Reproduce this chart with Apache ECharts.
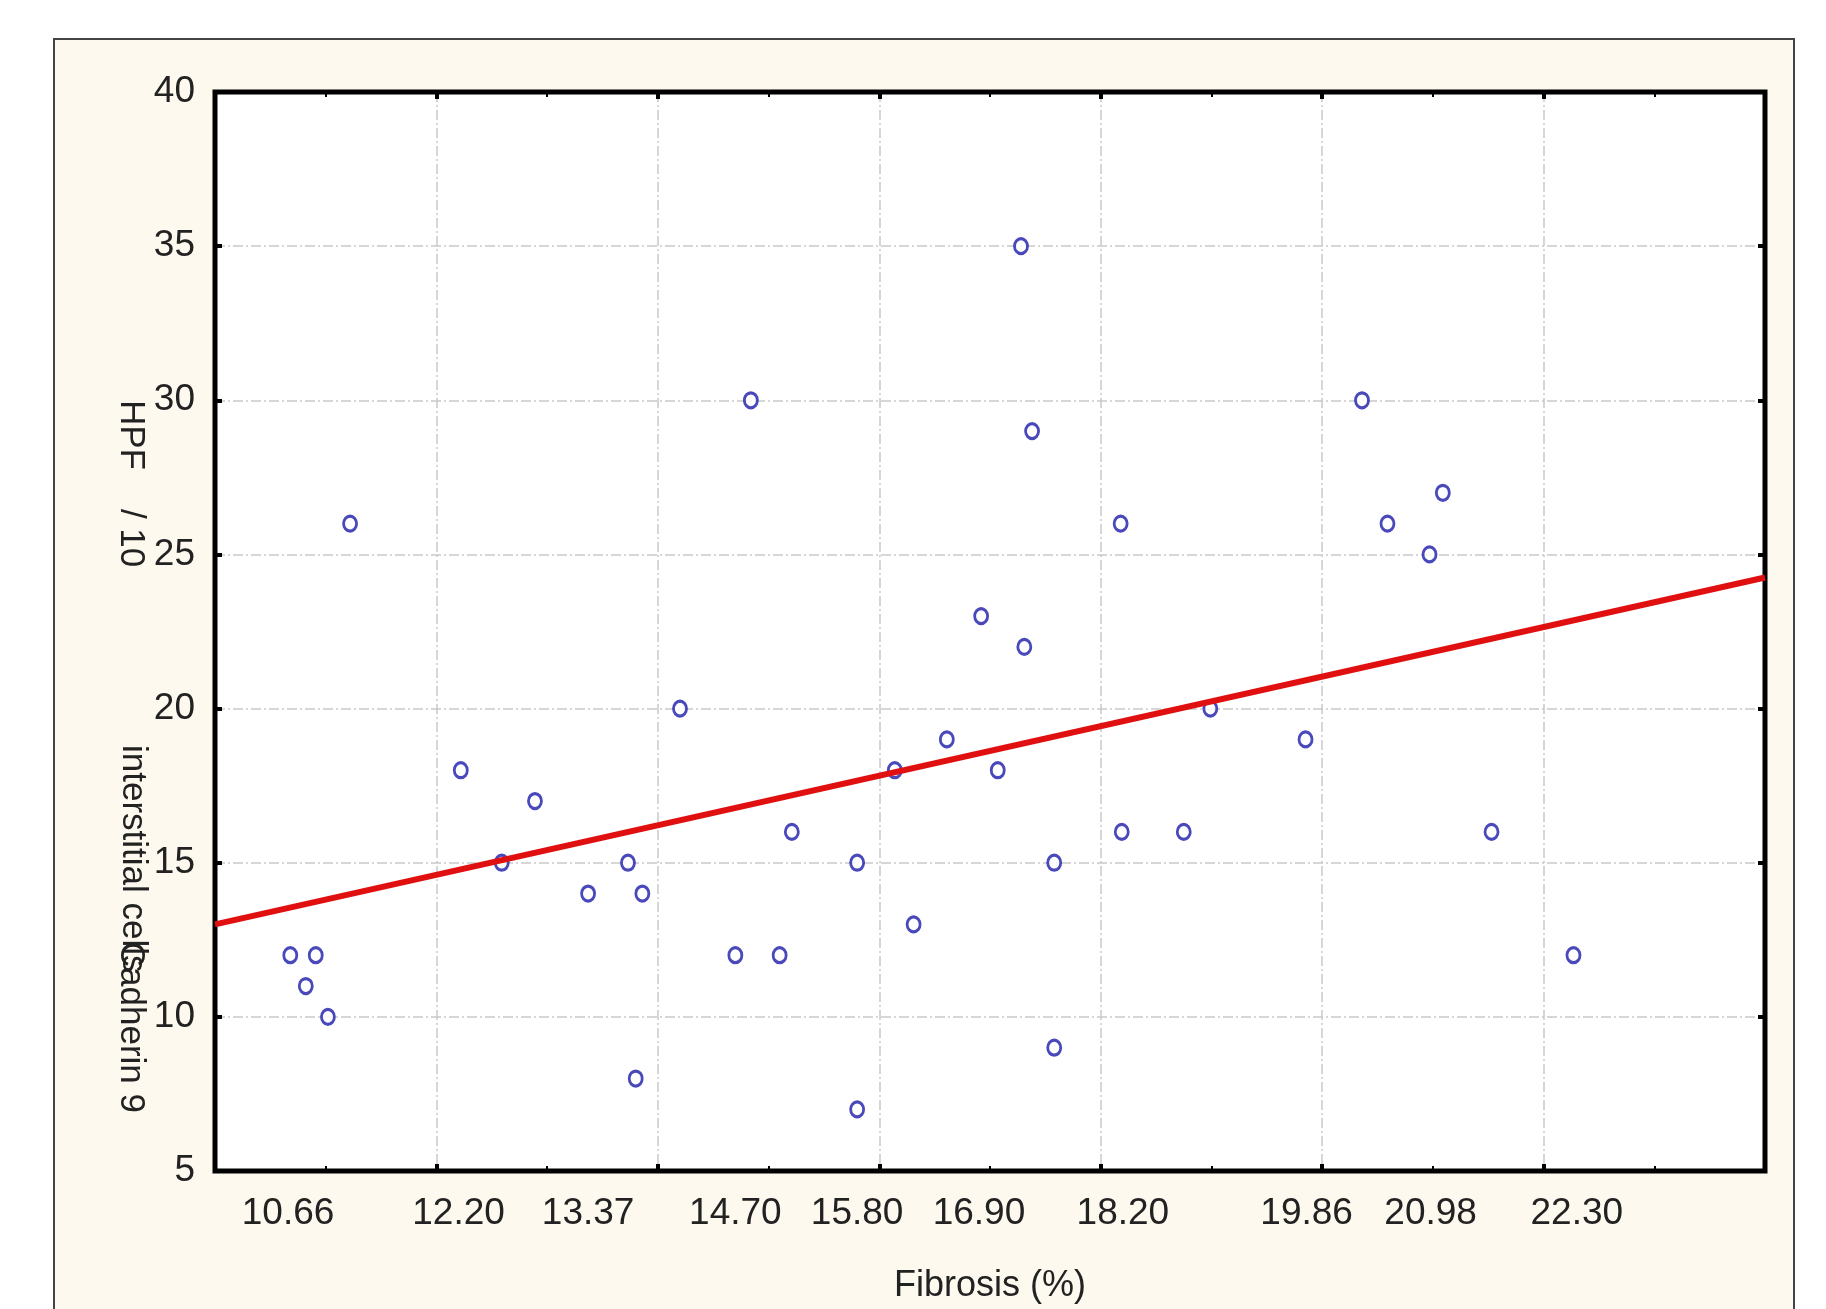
<!DOCTYPE html>
<html>
<head>
<meta charset="utf-8">
<script src="https://cdn.jsdelivr.net/npm/echarts@6/dist/echarts.min.js"></script>
<style>
html,body{margin:0;padding:0;background:#fff;}
#chart{width:1826px;height:1309px;}
</style>
</head>
<body>
<div id="chart"></div>
<script>
// ---- data ----
const fibrosis = [10.68, 10.91, 10.82, 11.02, 11.22, 12.22, 12.59, 12.89, 13.37, 13.73,
                  13.86, 13.80, 14.20, 14.70, 14.84, 15.10, 15.21, 15.80, 15.80, 16.14,
                  16.31, 16.61, 16.92, 17.07, 17.28, 17.31, 17.38, 17.58, 17.58, 18.18,
                  18.19, 18.75, 18.99, 19.85, 20.36, 20.59, 20.97, 21.09, 21.53, 22.27];
const cadherin9 = [12, 12, 11, 10, 26, 18, 15, 17, 14, 15,
                   14, 8, 20, 12, 30, 12, 16, 15, 7, 18,
                   13, 19, 23, 18, 35, 22, 29, 15, 9, 26,
                   16, 16, 20, 19, 30, 26, 25, 27, 16, 12];
const xTickValues = [10.66, 12.20, 13.37, 14.70, 15.80, 16.90, 18.20, 19.86, 20.98, 22.30];
const fitX = [10, 24];
const fitY = [13.0, 24.25];

const FONT = "'Liberation Sans', Arial, sans-serif";
const TXT = '#222';

const chart = echarts.init(document.getElementById('chart'), null, {renderer: 'canvas'});

const tickCommon = {inside: true, length: 7, lineStyle: {color: '#000', width: 4}};
const minorCommon = {show: true, splitNumber: 2, length: 5, lineStyle: {color: '#000', width: 2}};
const gridLine = {show: true, showMinLine: false, showMaxLine: false,
                  lineStyle: {color: '#c9c9c9', width: 1.5, type: [10, 3, 2, 3]}};

chart.setOption({
  backgroundColor: '#fff',
  animation: false,
  graphic: [
    {type: 'rect', z: -10, shape: {x: 54, y: 39, width: 1740, height: 1320},
     style: {fill: '#fdf9ee', stroke: '#444', lineWidth: 2}},
    {type: 'text', z: 10, x: 131, y: 400, rotation: -Math.PI / 2,
     style: {text: 'HPF    / 10', fontSize: 35, fontFamily: FONT, fill: TXT, align: 'left', verticalAlign: 'middle'}},
    {type: 'text', z: 10, x: 133, y: 745, rotation: -Math.PI / 2,
     style: {text: 'interstitial cells', fontSize: 35, fontFamily: FONT, fill: TXT, align: 'left', verticalAlign: 'middle'}},
    {type: 'text', z: 10, x: 131, y: 1113, rotation: -Math.PI / 2,
     style: {text: 'Cadherin 9', fontSize: 35, fontFamily: FONT, fill: TXT, align: 'right', verticalAlign: 'middle'}}
  ],
  grid: {
    left: 215, top: 92, right: 61, bottom: 138,
    show: true, backgroundColor: '#fff', borderColor: '#000', borderWidth: 5
  },
  xAxis: [
    {
      type: 'value', min: 10, max: 24, interval: 2, position: 'bottom',
      axisLine: {show: false},
      axisTick: tickCommon,
      minorTick: minorCommon,
      splitLine: gridLine,
      axisLabel: {customValues: xTickValues, formatter: v => v.toFixed(2),
                  fontSize: 37, color: TXT, fontFamily: FONT, margin: 24},
      name: 'Fibrosis (%)', nameLocation: 'middle', nameGap: 97,
      nameTextStyle: {fontSize: 36, color: TXT, fontFamily: FONT}
    },
    {
      type: 'value', min: 10, max: 24, interval: 2, position: 'top',
      axisLine: {show: false},
      axisTick: tickCommon,
      minorTick: minorCommon,
      splitLine: {show: false},
      axisLabel: {show: false}
    }
  ],
  yAxis: [
    {
      type: 'value', min: 5, max: 40, interval: 5, position: 'left',
      axisLine: {show: false},
      axisTick: tickCommon,
      splitLine: gridLine,
      axisLabel: {fontSize: 37, color: TXT, fontFamily: FONT, margin: 20}
    },
    {
      type: 'value', min: 5, max: 40, interval: 5, position: 'right',
      axisLine: {show: false},
      axisTick: tickCommon,
      splitLine: {show: false},
      axisLabel: {show: false}
    }
  ],
  series: [
    {
      type: 'scatter', xAxisIndex: 0, yAxisIndex: 0, z: 2,
      data: fibrosis.map((x, i) => [x, cadherin9[i]]),
      symbol: 'circle', symbolSize: [13, 15],
      itemStyle: {color: '#fff', borderColor: '#1c1caa', borderWidth: 3}
    },
    {
      type: 'line', xAxisIndex: 0, yAxisIndex: 0, z: 3,
      data: fitX.map((x, i) => [x, fitY[i]]),
      showSymbol: false, symbol: 'none',
      lineStyle: {color: '#e01010', width: 6}
    }
  ]
});
</script>
</body>
</html>
